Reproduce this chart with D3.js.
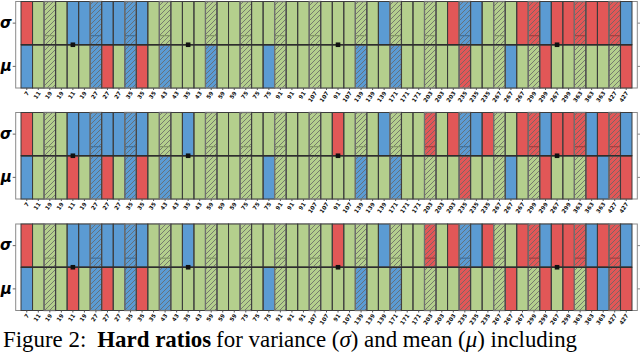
<!DOCTYPE html>
<html>
<head>
<meta charset="utf-8">
<script src="https://cdn.jsdelivr.net/npm/d3@7"></script>
<style>
  body { margin: 0; background: #fff; }
</style>
</head>
<body>
<div id="chart"></div>
<script>

// column tick labels, shared by the three panels
var labels = ["7","11","19","19","11","19","27","27","27","35",
              "35","35","43","43","35","43","59","59","59","75",
              "75","75","91","91","91","107","107","91","107","139",
              "139","139","171","171","171","203","203","203","235","235",
              "235","267","267","267","299","299","267","299","363","363",
              "363","427","427"];

// columns drawn with hatching, and columns with a marker on the middle line (0-based)
var hatchedCols = [2, 6, 9, 12, 16, 19, 22, 25, 29, 32, 35, 38, 41, 44, 48, 51];
var markerCols = [4, 14, 27, 46];

// R = red, G = green, B = blue (one letter per column)
var sigma1 = "RGGGBBBBBB BGGGGGGGGG GGGGGGGGGG GBGGGGGRBB GGGRRBRRRR RRB";
var mu1    = "BGGGGGBRGB RGBGGGBGGG GBGGGGGGGB GGBGGGGGRG GGBGGRGGGG GGR";
var sigma2 = "RGGGBBBBBB BGGGBGGGGG GGGGGGGRGG GBGGGRGRBB RGGRRBRRRB RRB";
var mu2    = "BGGGRGBRGB RGBGGGGGGG GBGGGGGGGB GGBGGGGGRG GGBGGRGGGR BRR";
var sigma3 = "RGGGBBBBBB BGGGBGGGGG GGGGGGGRGG GBGGGRGRBB RGGRRBRRRB RRB";
var mu3    = "BGGGRGBRGB RGBGGGGGGG GBGGGGGGGB GGBGGGGGRG GGRGGRGRGR BRR";

var rowNames = ["σ", "μ"];

var palette = { R: "#e25757", G: "#b4cf8d", B: "#5b9bd3" };

var panels = [
  { sigma: sigma1, mu: mu1 },
  { sigma: sigma2, mu: mu2 },
  { sigma: sigma3, mu: mu3 }
];

var width = 640, height = 353;
var panelTop = [1.5, 112.5, 224],
    panelH = 86.5,
    left = 15.7, right = 637.3;

var svg = d3.select("#chart")
  .append("svg")
    .attr("width", width)
    .attr("height", height);

// hatch pattern (transparent background, laid over the fill)
svg.append("defs").append("pattern")
    .attr("id", "hatch")
    .attr("patternUnits", "userSpaceOnUse")
    .attr("width", 5)
    .attr("height", 5)
  .append("path")
    .attr("d", "M-1,1 l2,-2 M0,5 l5,-5 M4,6 l2,-2")
    .attr("stroke", "#666")
    .attr("stroke-width", 0.8);

var x = d3.scaleBand()
  .domain(d3.range(labels.length))
  .range([left, right])
  .paddingInner(0)
  .paddingOuter(0.46);

panels.forEach(function (p, k) {
  var top = panelTop[k];
  var y = d3.scaleBand()
    .domain(rowNames)
    .range([top, top + panelH]);

  var g = svg.append("g");

  // axes frame
  g.append("rect")
    .attr("x", left)
    .attr("y", top)
    .attr("width", right - left)
    .attr("height", panelH)
    .attr("fill", "none")
    .attr("stroke", "#8a8a8a")
    .attr("stroke-width", 1);

  var cells = [];
  [p.sigma, p.mu].forEach(function (s, r) {
    s.replace(/ /g, "").split("").forEach(function (c, i) {
      cells.push({ row: rowNames[r], col: i, c: c, hatched: hatchedCols.indexOf(i) >= 0 });
    });
  });

  // cells
  g.append("g")
    .selectAll("rect")
    .data(cells)
    .enter()
    .append("rect")
      .attr("x", function (d) { return x(d.col); })
      .attr("y", function (d) { return y(d.row); })
      .attr("width", x.bandwidth())
      .attr("height", y.bandwidth())
      .attr("fill", function (d) { return palette[d.c]; });

  // hatching
  g.append("g")
    .selectAll("rect")
    .data(cells.filter(function (d) { return d.hatched; }))
    .enter()
    .append("rect")
      .attr("x", function (d) { return x(d.col); })
      .attr("y", function (d) { return y(d.row); })
      .attr("width", x.bandwidth())
      .attr("height", y.bandwidth())
      .attr("fill", "url(#hatch)");

  // small line inside the hatched sigma cells
  g.append("g")
    .selectAll("line")
    .data(cells.filter(function (d) { return d.hatched && d.row === "σ"; }))
    .enter()
    .append("line")
      .attr("x1", function (d) { return x(d.col); })
      .attr("x2", function (d) { return x(d.col) + x.bandwidth(); })
      .attr("y1", function (d) { return y(d.row) + y.bandwidth() * 0.79; })
      .attr("y2", function (d) { return y(d.row) + y.bandwidth() * 0.79; })
      .attr("stroke", function (d) { return d3.color(palette[d.c]).darker(0.9); })
      .attr("stroke-width", 1.2);

  // cell edges
  g.append("g")
    .selectAll("rect")
    .data(cells)
    .enter()
    .append("rect")
      .attr("x", function (d) { return x(d.col); })
      .attr("y", function (d) { return y(d.row); })
      .attr("width", x.bandwidth())
      .attr("height", y.bandwidth())
      .attr("fill", "none")
      .attr("stroke", function (d) { return d.hatched ? "#707070" : "#3c3c3c"; })
      .attr("stroke-width", function (d) { return d.hatched ? 1.3 : 1; });

  // line between the two rows
  var mid = y("μ");
  g.append("line")
    .attr("x1", x(0))
    .attr("x2", x(labels.length - 1) + x.bandwidth())
    .attr("y1", mid)
    .attr("y2", mid)
    .attr("stroke", "#2e2e2e")
    .attr("stroke-width", 1.4);

  // markers
  g.append("g")
    .selectAll("rect")
    .data(markerCols)
    .enter()
    .append("rect")
      .attr("x", function (d) { return x(d) + x.bandwidth() / 2 - 2.3; })
      .attr("y", mid - 2.3)
      .attr("width", 4.6)
      .attr("height", 4.6)
      .attr("fill", "#111");

  // Add Y axis (left, with labels)
  var yl = g.append("g")
    .attr("transform", "translate(" + left + ",0)")
    .call(d3.axisLeft(y).tickSize(3).tickPadding(1));
  yl.select(".domain").remove();
  yl.selectAll("line").attr("stroke", "#666");
  yl.selectAll("text")
    .attr("font-family", "DejaVu Sans")
    .attr("font-size", 15)
    .attr("font-weight", "bold")
    .attr("font-style", "italic")
    .attr("fill", "#000");

  // right axis, ticks only
  var yr = g.append("g")
    .attr("transform", "translate(" + right + ",0)")
    .call(d3.axisRight(y).tickSize(3).tickFormat(""));
  yr.select(".domain").remove();
  yr.selectAll("line").attr("stroke", "#888");

  // Add X axis
  var xa = g.append("g")
    .attr("transform", "translate(0," + (top + panelH) + ")")
    .call(d3.axisBottom(x).tickSize(2).tickFormat(function (i) { return labels[i]; }));
  xa.select(".domain").remove();
  xa.selectAll("line").attr("stroke", "#555");
  xa.selectAll("text")
    .attr("font-family", "DejaVu Sans")
    .attr("font-size", 5.6)
    .attr("font-weight", "bold")
    .attr("fill", "#111")
    .attr("text-anchor", "end")
    .attr("x", 0)
    .attr("y", 0)
    .attr("dy", "0.35em")
    .attr("transform", "translate(1,4) rotate(-55)");
});

// caption
var cap = svg.append("text")
  .attr("x", 3)
  .attr("y", 347)
  .attr("font-family", "Liberation Serif")
  .attr("font-size", 22.9)
  .attr("fill", "#000");
cap.append("tspan").text("Figure 2:");
cap.append("tspan").attr("dx", 11).attr("font-weight", "bold").text("Hard ratios");
cap.append("tspan").attr("dx", 5).text("for variance (");
cap.append("tspan").attr("font-style", "italic").text("σ");
cap.append("tspan").text(") and mean (");
cap.append("tspan").attr("font-style", "italic").text("μ");
cap.append("tspan").text(") including");

</script>
</body>
</html>
